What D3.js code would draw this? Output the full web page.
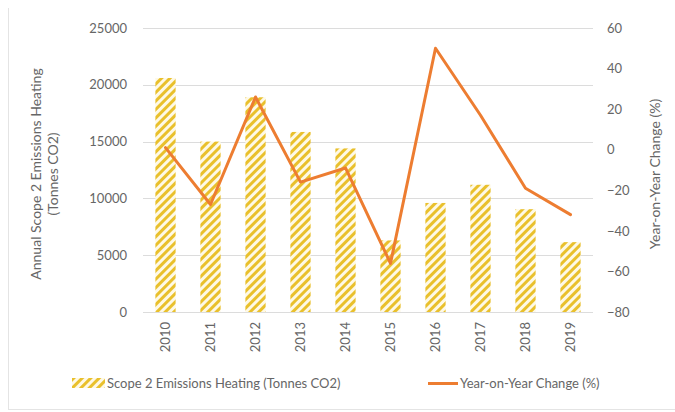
<!DOCTYPE html>
<html>
<head>
<meta charset="utf-8">
<script src="https://cdn.jsdelivr.net/npm/d3@7"></script>
<style>
  html, body { margin: 0; padding: 0; background: #fff; }
  svg { display: block; font-family: Lato, "Open Sans", sans-serif; }
</style>
</head>
<body>
<svg id="chart" width="675" height="412"></svg>
<script>
// Annual heating emissions and the change from one year to the next
const years = ["2010", "2011", "2012", "2013", "2014", "2015", "2016", "2017", "2018", "2019"];
const emissions = [20600, 15000, 18900, 15850, 14400, 6300, 9600, 11200, 9050, 6150];
const yoyChange = [1, -27, 26, -16, -9, -56, 50, 17, -19, -32];
const leftTicks = [0, 5000, 10000, 15000, 20000, 25000];
const rightTicks = [-80, -60, -40, -20, 0, 20, 40, 60];
const barLabel = "Scope 2 Emissions Heating (Tonnes CO2)";
const lineLabel = "Year-on-Year Change (%)";

const svg = d3.select("#chart");
const margin = { left: 143, right: 82, top: 28, bottom: 100 };
const W = 675, H = 412;
const x0 = margin.left, x1 = W - margin.right;
const yTop = margin.top, yBot = H - margin.bottom;

const textColor = "#666666";
const gridColor = "#dcdcdc";
const barColor = "#e9c02c";
const lineColor = "#ed7d31";

// frame edges
svg.append("line").attr("x1", 8.5).attr("x2", 8.5).attr("y1", 8).attr("y2", 410)
  .attr("stroke", "#e4e4e4");
svg.append("line").attr("x1", 8).attr("x2", W).attr("y1", 409.5).attr("y2", 409.5)
  .attr("stroke", "#e4e4e4");

// diagonal hatch for the bars
const defs = svg.append("defs");
const pat = defs.append("pattern")
  .attr("id", "hatch")
  .attr("patternUnits", "userSpaceOnUse")
  .attr("width", 6).attr("height", 6)
  .attr("patternTransform", "rotate(45)");
pat.append("rect").attr("width", 6).attr("height", 6).attr("fill", "#fef9e6");
pat.append("rect").attr("x", 0).attr("width", 3).attr("height", 6).attr("fill", barColor);

const x = d3.scaleBand().domain(years).range([x0, x1]).paddingInner(0.55).paddingOuter(0.275);
const yL = d3.scaleLinear().domain([0, 25000]).range([yBot, yTop]);
const yR = d3.scaleLinear().domain([-80, 60]).range([yBot, yTop]);

// gridlines from the left axis
svg.append("g").selectAll("line").data(leftTicks).join("line")
  .attr("x1", x0).attr("x2", x1)
  .attr("y1", d => Math.round(yL(d)) + 0.5).attr("y2", d => Math.round(yL(d)) + 0.5)
  .attr("stroke", gridColor).attr("stroke-width", 1);

// bars
svg.append("g").selectAll("rect").data(years).join("rect")
  .attr("x", d => x(d))
  .attr("width", x.bandwidth())
  .attr("y", (d, i) => yL(emissions[i]))
  .attr("height", (d, i) => yBot - yL(emissions[i]))
  .attr("fill", "url(#hatch)");

// year-on-year line
const line = d3.line()
  .x((d, i) => x(years[i]) + x.bandwidth() / 2)
  .y(d => yR(d));
svg.append("path").datum(yoyChange)
  .attr("d", line)
  .attr("fill", "none")
  .attr("stroke", lineColor)
  .attr("stroke-width", 3)
  .attr("stroke-linejoin", "round")
  .attr("stroke-linecap", "round");

// left axis
const axL = svg.append("g").attr("transform", `translate(${x0 - 16},0)`)
  .call(d3.axisLeft(yL).tickValues(leftTicks).tickFormat(d3.format("d")).tickSize(0).tickPadding(0));
axL.select(".domain").remove();
axL.selectAll("text").attr("fill", textColor).style("font-size", "13px")
  .style("font-family", "Lato, 'Open Sans', sans-serif");

// right axis
const axR = svg.append("g").attr("transform", `translate(${x1 + 14},0)`)
  .call(d3.axisRight(yR).tickValues(rightTicks).tickFormat(d3.format("d")).tickSize(0).tickPadding(0));
axR.select(".domain").remove();
axR.selectAll("text").attr("fill", textColor).style("font-size", "13px")
  .style("font-family", "Lato, 'Open Sans', sans-serif");

// category axis with rotated year labels
const axX = svg.append("g").attr("transform", `translate(0,${yBot})`)
  .call(d3.axisBottom(x).tickSize(0).tickPadding(0));
axX.select(".domain").remove();
axX.selectAll("text")
  .attr("fill", textColor).style("font-size", "13px")
  .style("font-family", "Lato, 'Open Sans', sans-serif")
  .attr("text-anchor", "end")
  .attr("dy", null)
  .attr("y", 0)
  .attr("transform", "translate(4,10) rotate(-90)");

// axis titles
const midY = 174;
const lt = svg.append("text")
  .attr("transform", `translate(41,${midY}) rotate(-90)`)
  .attr("text-anchor", "middle").attr("fill", textColor).style("font-size", "14px");
lt.append("tspan").attr("x", 0).attr("dy", 0).text("Annual Scope 2 Emissions Heating");
lt.append("tspan").attr("x", 0).attr("dy", 17).text("(Tonnes CO2)");

svg.append("text")
  .attr("transform", `translate(660,${midY}) rotate(-90)`)
  .attr("text-anchor", "middle").attr("fill", textColor).style("font-size", "14px")
  .text(lineLabel);

// legend
const leg = svg.append("g");
leg.append("rect").attr("x", 72).attr("y", 378).attr("width", 33).attr("height", 10)
  .attr("fill", "url(#hatch)");
leg.append("text").attr("x", 107).attr("y", 388).attr("fill", textColor)
  .style("font-size", "13px").text(barLabel);
leg.append("line").attr("x1", 428).attr("x2", 458).attr("y1", 383.5).attr("y2", 383.5)
  .attr("stroke", lineColor).attr("stroke-width", 3);
leg.append("text").attr("x", 460).attr("y", 388).attr("fill", textColor)
  .style("font-size", "13px").text(lineLabel);
</script>
</body>
</html>
